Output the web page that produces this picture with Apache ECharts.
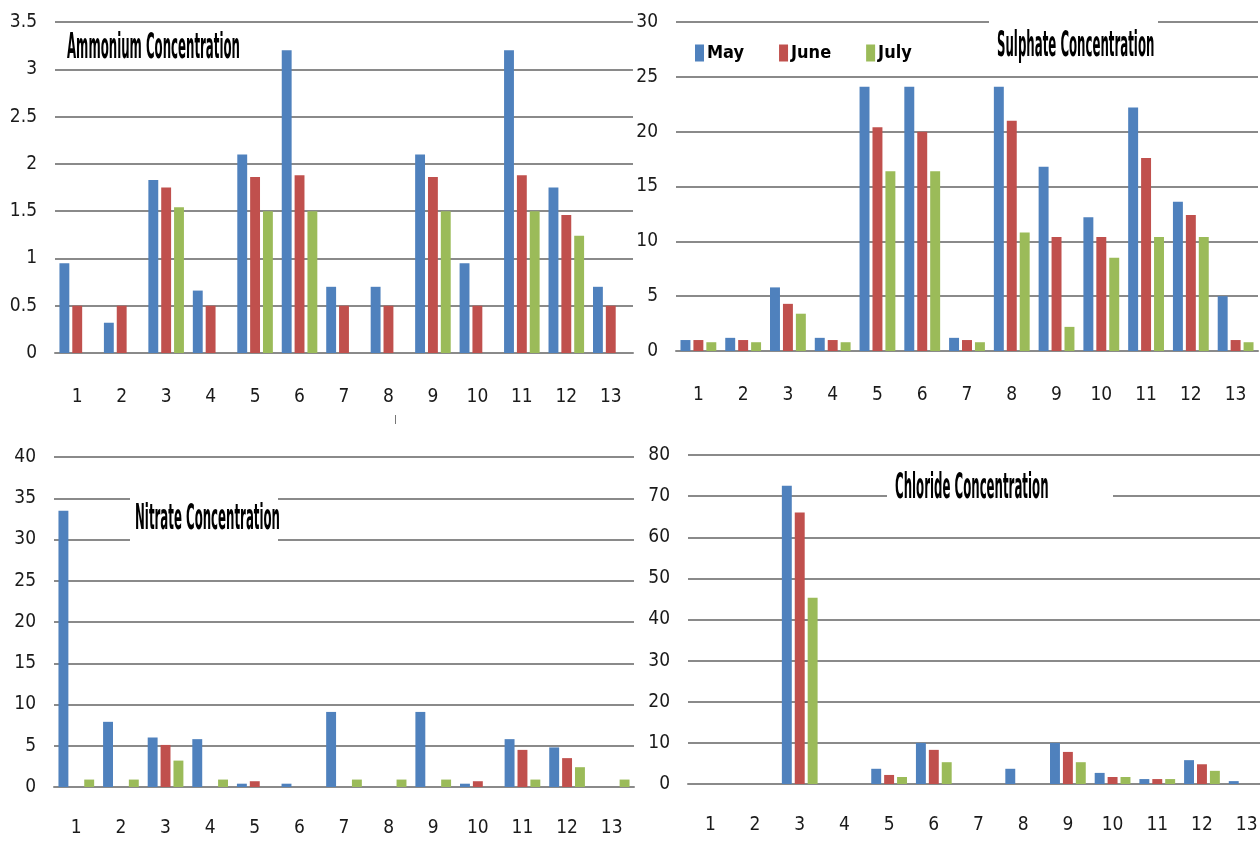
<!DOCTYPE html>
<html>
<head>
<meta charset="utf-8">
<script src="https://cdn.jsdelivr.net/npm/echarts@6/dist/echarts.min.js"></script>
<style>
html,body{margin:0;padding:0;background:#fff;}
#chart{width:1260px;height:844px;}
</style>
</head>
<body>
<div id="chart"></div>
<script>
const categories = ['1','2','3','4','5','6','7','8','9','10','11','12','13'];
const seriesNames = ['May','June','July'];

const ammoniumMay  = [0.95,0.32,1.83,0.66,2.1,3.2,0.7,0.7,2.1,0.95,3.2,1.75,0.7];
const ammoniumJune = [0.5,0.5,1.75,0.5,1.86,1.88,0.5,0.5,1.86,0.5,1.88,1.46,0.5];
const ammoniumJuly = [null,null,1.54,null,1.5,1.5,null,null,1.5,null,1.5,1.24,null];

const sulphateMay  = [1.0,1.2,5.8,1.2,24.1,24.1,1.2,24.1,16.8,12.2,22.2,13.6,5.0];
const sulphateJune = [1.0,1.0,4.3,1.0,20.4,20.0,1.0,21.0,10.4,10.4,17.6,12.4,1.0];
const sulphateJuly = [0.8,0.8,3.4,0.8,16.4,16.4,0.8,10.8,2.2,8.5,10.4,10.4,0.8];

const nitrateMay  = [33.5,7.9,6.0,5.8,0.4,0.4,9.1,null,9.1,0.4,5.8,4.8,null];
const nitrateJune = [null,null,5.1,null,0.7,null,null,null,null,0.7,4.5,3.5,null];
const nitrateJuly = [0.9,0.9,3.2,0.9,null,null,0.9,0.9,0.9,null,0.9,2.4,0.9];

const chlorideMay  = [null,null,72.5,null,3.7,10,null,3.7,10,2.7,1.2,5.8,0.7];
const chlorideJune = [null,null,66,null,2.2,8.3,null,null,7.8,1.7,1.2,4.8,null];
const chlorideJuly = [null,null,45.3,null,1.7,5.3,null,null,5.3,1.7,1.2,3.2,null];

const yMax = [3.5, 30, 40, 80];
const yInterval = [0.5, 5, 5, 10];
const panelTitles = ['Ammonium Concentration','Sulphate Concentration','Nitrate Concentration','Chloride Concentration'];

const colors = ['#4F81BD','#C0504D','#9BBB59'];
const FONT = '"Liberation Sans Narrow","DejaVu Sans Condensed","Arial Narrow",sans-serif';
const GRID_COLOR = '#8a8a8a';

const panels = [
  [ammoniumMay, ammoniumJune, ammoniumJuly],
  [sulphateMay, sulphateJune, sulphateJuly],
  [nitrateMay, nitrateJune, nitrateJuly],
  [chlorideMay, chlorideJune, chlorideJuly]
];

const grids = [
  {left:55, top:22, width:578, height:331},
  {left:676, top:22, width:582, height:329},
  {left:54, top:457, width:580, height:330},
  {left:688, top:455, width:581, height:329}
];
const xLabelMargin = [35, 35, 32, 32];

const option = {
  animation:false,
  backgroundColor:'#fff',
  color: colors,
  grid: grids.map(g => Object.assign({containLabel:false, outerBoundsMode:'none'}, g)),
  legend: {
    data: seriesNames,
    left: 695, top: 44, padding: 0,
    itemWidth: 9, itemHeight: 17, itemGap: 35,
    icon: 'rect',
    textStyle: {fontFamily: FONT, fontWeight:'bold', fontSize:18, color:'#000', padding:[0,0,0,-2]}
  },
  xAxis: grids.map((g,i) => ({
    type:'category', gridIndex:i, data:categories,
    axisLine:{show:true, lineStyle:{color:GRID_COLOR, width:2}},
    axisTick:{show:false},
    axisLabel:{interval:0, margin:xLabelMargin[i], fontFamily:FONT, fontSize:19, color:'#1a1a1a'},
    splitLine:{show:false}
  })),
  yAxis: grids.map((g,i) => ({
    type:'value', gridIndex:i, min:0, max:yMax[i], interval:yInterval[i],
    axisLine:{show:false}, axisTick:{show:false},
    axisLabel:{margin:18, fontFamily:FONT, fontSize:19, color:'#1a1a1a'},
    splitLine:{show:true, lineStyle:{color:GRID_COLOR, width:2}}
  })),
  series: [],
  graphic: []
};

panels.forEach((arrs, p) => {
  arrs.forEach((data, s) => {
    option.series.push({
      name: seriesNames[s], type:'bar', xAxisIndex:p, yAxisIndex:p,
      data: data,
      barGap:'30%', barCategoryGap:'20%',
      itemStyle:{color:colors[s]}
    });
  });
});

// title boxes (white background cutting gridlines) and titles
const titleBoxes = [
  {x:62, y:30, w:183, h:36, tx:67, ty:49},
  {x:989, y:12, w:169, h:60, tx:997, ty:47},
  {x:130, y:470, w:148, h:90, tx:135, ty:520},
  {x:887, y:465, w:226, h:60, tx:895, ty:489}
];
titleBoxes.forEach((b, i) => {
  option.graphic.push({
    type:'rect', z:50, silent:true,
    shape:{x:b.x, y:b.y, width:b.w, height:b.h},
    style:{fill:'#fff'}
  });
  option.graphic.push({
    type:'text', z:51, silent:true,
    x:b.tx, y:b.ty, scaleX:0.77, scaleY:2.1,
    style:{text:panelTitles[i], fontFamily:FONT, fontWeight:'bold', fontSize:17, fill:'#000', align:'left', verticalAlign:'middle'}
  });
});
option.graphic.push({
  type:'line', z:51, silent:true,
  shape:{x1:395.5, y1:415, x2:395.5, y2:424},
  style:{stroke:'#777', lineWidth:1}
});

const chart = echarts.init(document.getElementById('chart'), null, {renderer:'canvas'});
chart.setOption(option);
</script>
</body>
</html>
